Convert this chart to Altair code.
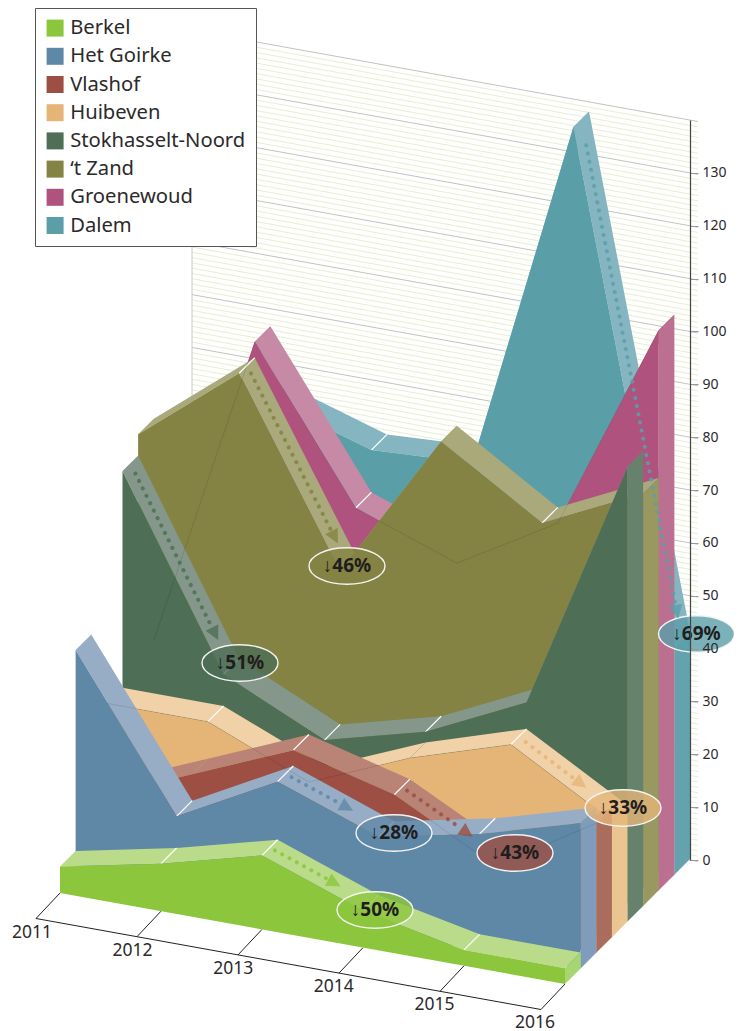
import altair as alt
import pandas as pd
import math

# ---- data ----
YEARS = [2011, 2012, 2013, 2014, 2015, 2016]
NAMES = ["Berkel", "Het Goirke", "Vlashof", "Huibeven", "Stokhasselt-Noord", "\u2018t Zand", "Groenewoud", "Dalem"]
BERKEL = [5, 9, 14, 7, 3, 3]
GOIRKE = [43, 15, 25, 18, 22, 27.5]
VLASHOF = [12, 20, 28, 23, 13, 24.5]
HUIBEVEN = [27, 27, 19, 27, 33, 22]
STOK = [68, 33, 24, 29, 38, 86]
ZAND = [72, 87, 53, 81, 69, 78]
GROEN = [30, 90, 62, 55, 66, 106]
DALEM = [65, 76, 70, 71, 138, 43]
SERIES = [BERKEL, GOIRKE, VLASHOF, HUIBEVEN, STOK, ZAND, GROEN, DALEM]
FRONT = ["#8cc63c", "#5f88a7", "#9c4f42", "#e5b578", "#4e6e55", "#848343", "#af527e", "#5a9fa8"]
RIBBON = ["#b9db8a", "#97adc5", "#b98375", "#f0d1a8", "#84978a", "#aaa97b", "#c78aa6", "#85b5c0"]
END = ["#a6d670", "#7f9dba", "#a96c5d", "#ebc591", "#66816c", "#999861", "#bb6f91", "#64a3ae"]
# series index, start year index, arrow start/end fraction, label, label centre
CALLOUTS = [
    (0, 2, .05, .70, "\u219350%", 375, 910),
    (1, 2, .06, .67, "\u219328%", 394, 833),
    (2, 3, .05, .70, "\u219343%", 515, 853),
    (3, 4, .07, .67, "\u219333%", 623, 808),
    (4, 0, .05, .87, "\u219351%", 240, 663),
    (5, 1, .04, .90, "\u219346%", 347, 566),
    (7, 4, .05, .96, "\u219369%", 696.5, 634),
]
FAINT = {2: 2, 3: 0, 6: 0}          # series -> first year index of the see-through edge
NO_TICK = {(2, 1), (3, 3)}          # series/year seams not shown in the reference

# ---- oblique projection ----
X0, Y0 = 60.0, 893.0
DX, DY = 101.0, 18.2
DEPTH = 15.625
UNIT = 5.285
TXT = "#2b2a2b"
FONT = "Noto Sans"


def base(s, j):
    return X0 + DX * j + DEPTH * s, Y0 + DY * j - DEPTH * s


def front(s, j, v):
    x, y = base(s, j)
    return x, y - v * UNIT


def back(s, j, v):
    x, y = front(s, j, v)
    return x + DEPTH, y - DEPTH


rows = []
pid = 0


def poly(pts, key, stroke="transparent", sw=0):
    global pid
    for i, (x, y) in enumerate(pts):
        rows.append(dict(x=x, y=y, idx=i, pid=pid, key=key, stroke=stroke, sw=sw))
    pid += 1


n = len(YEARS)
for s in range(len(SERIES) - 1, -1, -1):
    vals = SERIES[s]
    name = NAMES[s]
    visible = []
    for j in range(n - 1):
        a, b = front(s, j, vals[j]), front(s, j + 1, vals[j + 1])
        visible.append((b[1] - a[1]) / (b[0] - a[0]) > -1)
        poly([a, b, back(s, j + 1, vals[j + 1]), back(s, j, vals[j])], name + " top")
    for j in range(1, n - 1):
        if visible[j - 1] and visible[j] and (s, j) not in NO_TICK:
            poly([front(s, j, vals[j]), back(s, j, vals[j])], "none", "white", 1.2)
    top = [front(s, j, vals[j]) for j in range(n)]
    poly(top + [base(s, n - 1), base(s, 0)], name)
    e0, e1 = front(s, n - 1, vals[-1]), base(s, n - 1)
    poly([e0, (e0[0] + DEPTH, e0[1] - DEPTH), (e1[0] + DEPTH, e1[1] - DEPTH), e1], name + " end")

polys = pd.DataFrame(rows)
dom = NAMES + [m + " top" for m in NAMES] + [m + " end" for m in NAMES] + ["none"]
rng = FRONT + RIBBON + END + ["transparent"]

W, H = 726, 1023
xs = alt.Scale(domain=[8, 8 + W], range=[0, W], nice=False, zero=False)
ys = alt.Scale(domain=[8, 8 + H], range=[0, H], nice=False, zero=False)
X = alt.X("x:Q", scale=xs, axis=None)
Y = alt.Y("y:Q", scale=ys, axis=None)

poly_layer = alt.Chart(polys).mark_line(strokeCap="butt").encode(
    x=X, y=Y,
    order="idx:Q",
    detail="pid:N",
    fill=alt.Fill("key:N", scale=alt.Scale(domain=dom, range=rng), legend=alt.Legend(
        values=NAMES, orient="none", legendX=27, legendY=0, title=None,
        symbolType="square",
        symbolSize=289, symbolStrokeWidth=0, symbolStrokeColor="transparent", symbolOpacity=1,
        labelFont=FONT, labelFontSize=20.2, labelColor=TXT, labelOffset=5, rowPadding=7.2,
        padding=10, fillColor="white", strokeColor="#555555", labelLimit=300)),
    stroke=alt.Stroke("stroke:N", scale=None),
    strokeWidth=alt.StrokeWidth("sw:Q", scale=None),
)

# back wall
wall = []
WX0, WX1, WALL_O = 192.0, 698.0, 860.0
BX = 690.0
for v in range(0, 141):
    yy = WALL_O - v * UNIT
    wall.append(dict(x=WX0, x2=WX1, y=yy - (BX - WX0) * DY / DX, y2=yy + (WX1 - BX) * DY / DX,
                     c="#b3b3ac" if v % 10 == 0 else "#dfeac4", v=v))
wall = sorted(wall, key=lambda r: r["v"] % 10 == 0)
wall_layer = alt.Chart(pd.DataFrame(wall)).mark_rule(strokeWidth=0.8).encode(
    x=X, y=Y, x2="x2:Q", y2="y2:Q", color=alt.Color("c:N", scale=None))
left_edge = alt.Chart(pd.DataFrame([dict(x=WX0, x2=WX0, y=30.0, y2=560.0)])).mark_rule(
    color="#c8c8c8", strokeWidth=1).encode(x=X, y=Y, x2="x2:Q", y2="y2:Q")

# year axis
TICKX, TICKY = -24.0, 25.5
ax = []
for j in range(n):
    bx, by = base(0, j)
    ax.append(dict(x=bx, y=by, x2=bx + TICKX, y2=by + TICKY))
b0, b1 = base(0, 0), base(0, n - 1)
ax.append(dict(x=b0[0] + TICKX, y=b0[1] + TICKY, x2=b1[0] + TICKX, y2=b1[1] + TICKY))
year_rules = alt.Chart(pd.DataFrame(ax)).mark_rule(color="#222222", strokeWidth=1).encode(
    x=X, y=Y, x2="x2:Q", y2="y2:Q")
yl = pd.DataFrame([dict(x=32 + 100.6 * j, y=933 + 17.9 * j, t=str(YEARS[j])) for j in range(n)])
year_text = alt.Chart(yl).mark_text(font=FONT, fontSize=17.5, color=TXT).encode(x=X, y=Y, text="t:N")

# faint hidden edges
fr = []
for s, first in FAINT.items():
    for j in range(first, n):
        x, y = front(s, j, SERIES[s][j])
        fr.append(dict(x=x, y=y, s=s, idx=j))
faint = alt.Chart(pd.DataFrame(fr)).mark_line(color="#000000", strokeWidth=1, opacity=0.1).encode(
    x=X, y=Y, detail="s:N", order="idx:Q")

# arrows and call-outs
dots, heads, labels = [], [], []
for k, (s, j, t0, t1, txt, lx, ly) in enumerate(CALLOUTS):
    v = SERIES[s]
    a0, a1 = front(s, j, v[j]), front(s, j + 1, v[j + 1])
    p0 = (a0[0] + DEPTH / 2, a0[1] - DEPTH / 2)
    p1 = (a1[0] + DEPTH / 2, a1[1] - DEPTH / 2)
    start = (p0[0] + (p1[0] - p0[0]) * t0, p0[1] + (p1[1] - p0[1]) * t0)
    tip = (p0[0] + (p1[0] - p0[0]) * t1, p0[1] + (p1[1] - p0[1]) * t1)
    L = math.hypot(tip[0] - start[0], tip[1] - start[1])
    ux, uy = (tip[0] - start[0]) / L, (tip[1] - start[1]) / L
    hb = (tip[0] - ux * 14, tip[1] - uy * 14)
    dots += [dict(x=start[0], y=start[1], k=k, idx=0, c=FRONT[s]), dict(x=hb[0], y=hb[1], k=k, idx=1, c=FRONT[s])]
    for i, pt in enumerate([tip, (hb[0] - uy * 7, hb[1] + ux * 7), (hb[0] + uy * 7, hb[1] - ux * 7)]):
        heads.append(dict(x=pt[0], y=pt[1], k=k, idx=i, c=FRONT[s]))
    labels.append(dict(x=lx, y=ly, t=txt, c=FRONT[s]))

dot_layer = alt.Chart(pd.DataFrame(dots)).mark_line(strokeCap="round", strokeDash=[0.1, 8.2], strokeWidth=4, opacity=0.85).encode(
    x=X, y=Y, detail="k:N", order="idx:Q", stroke=alt.Stroke("c:N", scale=None))
head_layer = alt.Chart(pd.DataFrame(heads)).mark_line(opacity=0.8, strokeWidth=0).encode(
    x=X, y=Y, detail="k:N", order="idx:Q", fill=alt.Fill("c:N", scale=None))
ELLIPSE = "M-1,0 A1,0.48 0 1 1 1,0 A1,0.48 0 1 1 -1,0 Z"
ell_layer = alt.Chart(pd.DataFrame(labels)).mark_point(
    shape=ELLIPSE, size=5776, filled=True, fillOpacity=0.8, stroke="#f4f4f4", strokeWidth=1.4, strokeOpacity=1).encode(
    x=X, y=Y, fill=alt.Fill("c:N", scale=None))
lab_layer = alt.Chart(pd.DataFrame(labels)).mark_text(font=FONT, fontSize=19, fontWeight="bold", color="#1f1d1e").encode(
    x=X, y=Y, text="t:N")

pix = alt.layer(wall_layer, left_edge, year_rules, year_text, poly_layer, faint, ell_layer, dot_layer, head_layer, lab_layer)

# value axis
VAL_TICKS = list(range(0, 140, 10))
axis_layer = alt.Chart(pd.DataFrame({"v": VAL_TICKS})).mark_point(opacity=0).encode(
    y=alt.Y("v:Q", scale=alt.Scale(domain=[0, 140], range=[852, 112], nice=False), axis=alt.Axis(
        orient="right", offset=-44, values=VAL_TICKS, tickSize=8, tickColor="#999999", tickWidth=1,
        domainColor="#444444", domainWidth=1.2, labelFont=FONT, labelFontSize=14, labelColor=TXT,
        labelPadding=4, grid=False, title=None, zindex=1, labelOverlap=False)),
)

chart = alt.layer(pix, axis_layer).resolve_scale(y="independent").properties(
    width=W, height=H, padding=0, autosize=alt.AutoSizeParams(type="none"),
    background="white",
).configure_view(stroke=None)

chart.save("out.html", embed_options={"renderer": "svg", "actions": False})
